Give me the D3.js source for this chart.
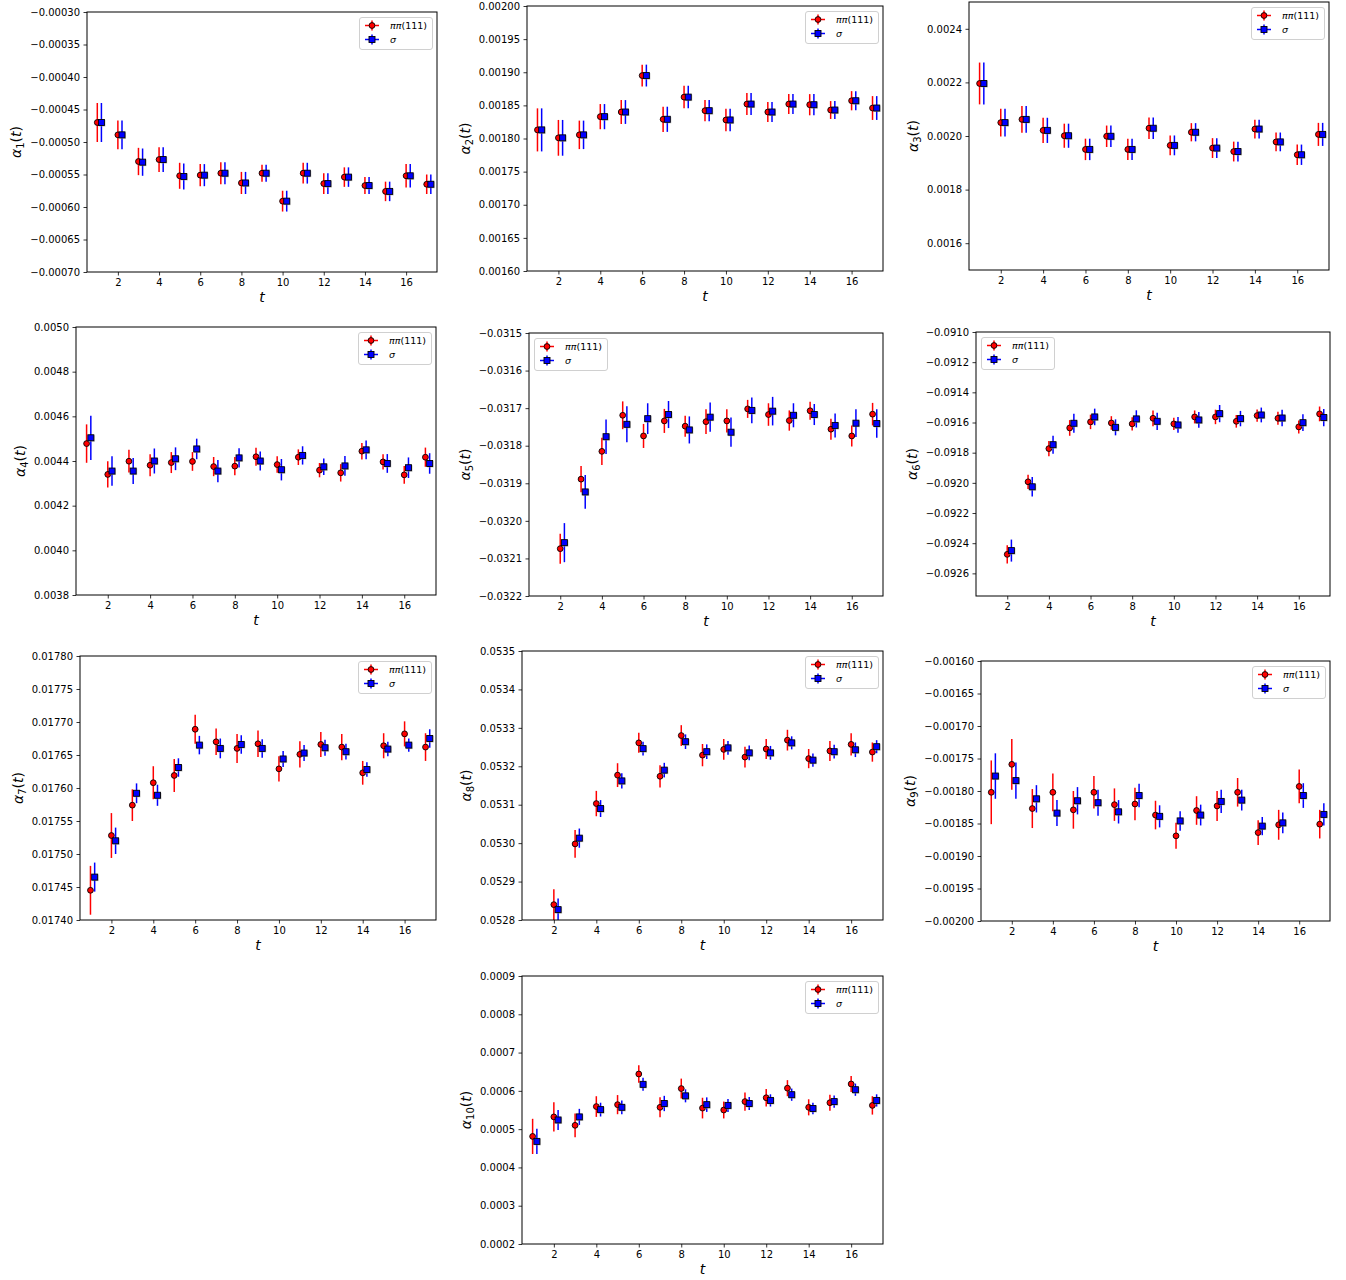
<!DOCTYPE html>
<html>
<head>
<meta charset="utf-8">
<script src="https://cdn.jsdelivr.net/npm/d3@7"></script>
<style>
	body { margin: 0; background: #fff; }
	svg text { font-family: "DejaVu Sans", sans-serif; }
</style>
</head>
<body>
<svg id="figura" width="1346" height="1280"></svg>
<script>
	// Tiempos y ticks del eje x
	var tTodos = [1, 2, 3, 4, 5, 6, 7, 8, 9, 10, 11, 12, 13, 14, 15, 16, 17];
	var tDesde2 = [2, 3, 4, 5, 6, 7, 8, 9, 10, 11, 12, 13, 14, 15, 16, 17];
	var tTicks = [2, 4, 6, 8, 10, 12, 14, 16];

	// alpha_1
	var a1Pi = [-0.000470, -0.000489, -0.000530, -0.000527, -0.000552, -0.000551, -0.000548, -0.000563, -0.000548, -0.000591, -0.000548, -0.000564, -0.000554, -0.000567, -0.000576, -0.000552, -0.000565];
	var a1PiErr = [0.000030, 0.000022, 0.000021, 0.000019, 0.000020, 0.000017, 0.000017, 0.000017, 0.000013, 0.000016, 0.000016, 0.000016, 0.000015, 0.000013, 0.000015, 0.000018, 0.000015];
	var a1Sig = [-0.000470, -0.000489, -0.000531, -0.000527, -0.000553, -0.000551, -0.000548, -0.000563, -0.000548, -0.000591, -0.000548, -0.000564, -0.000554, -0.000567, -0.000576, -0.000552, -0.000565];
	var a1SigErr = [0.000030, 0.000022, 0.000021, 0.000019, 0.000020, 0.000017, 0.000017, 0.000017, 0.000013, 0.000016, 0.000016, 0.000016, 0.000015, 0.000013, 0.000015, 0.000018, 0.000015];
	var a1Ticks = [-0.0007, -0.00065, -0.0006, -0.00055, -0.0005, -0.00045, -0.0004, -0.00035, -0.0003];

	// alpha_2
	var a2Pi = [0.001813, 0.001801, 0.0018055, 0.001833, 0.001840, 0.001895, 0.001829, 0.0018625, 0.001842, 0.001828, 0.001852, 0.001840, 0.001852, 0.001851, 0.001843, 0.001857, 0.001846];
	var a2PiErr = [0.0000325, 0.000027, 0.0000215, 0.000019, 0.000018, 0.0000165, 0.000019, 0.000017, 0.000016, 0.000017, 0.0000165, 0.000015, 0.000015, 0.000016, 0.0000135, 0.0000145, 0.000018];
	var a2Sig = [0.001813, 0.001801, 0.0018055, 0.001833, 0.001840, 0.001895, 0.001829, 0.0018625, 0.001842, 0.001828, 0.001852, 0.001840, 0.001852, 0.001851, 0.001843, 0.001857, 0.001846];
	var a2SigErr = [0.0000325, 0.000027, 0.0000215, 0.000019, 0.000018, 0.0000165, 0.000019, 0.000017, 0.000016, 0.000017, 0.0000165, 0.000015, 0.000015, 0.000016, 0.0000135, 0.0000145, 0.000018];
	var a2Ticks = [0.0016, 0.00165, 0.0017, 0.00175, 0.0018, 0.00185, 0.0019, 0.00195, 0.002];

	// alpha_3
	var a3Pi = [0.002196, 0.002050, 0.002062, 0.002021, 0.002001, 0.001950, 0.001999, 0.001950, 0.002029, 0.001965, 0.002014, 0.001955, 0.001942, 0.002026, 0.001978, 0.001930, 0.002006];
	var a3PiErr = [0.000078, 0.000052, 0.000050, 0.000047, 0.000045, 0.000040, 0.000040, 0.000040, 0.000040, 0.000037, 0.000034, 0.000037, 0.000037, 0.000035, 0.000035, 0.000038, 0.000043];
	var a3Sig = [0.002196, 0.002050, 0.002062, 0.002021, 0.002001, 0.001950, 0.001999, 0.001950, 0.002029, 0.001965, 0.002014, 0.001955, 0.001942, 0.002026, 0.001978, 0.001930, 0.002006];
	var a3SigErr = [0.000078, 0.000052, 0.000050, 0.000047, 0.000045, 0.000040, 0.000040, 0.000040, 0.000040, 0.000037, 0.000034, 0.000037, 0.000037, 0.000035, 0.000035, 0.000038, 0.000043];
	var a3Ticks = [0.0016, 0.0018, 0.002, 0.0022, 0.0024];

	// alpha_4
	var a4Pi = [0.004478, 0.004340, 0.004399, 0.004381, 0.004393, 0.004398, 0.004375, 0.004377, 0.004419, 0.004384, 0.004417, 0.004359, 0.004347, 0.004444, 0.004396, 0.004338, 0.004417];
	var a4PiErr = [0.000086, 0.000059, 0.000051, 0.000049, 0.000047, 0.000042, 0.000043, 0.000041, 0.000040, 0.000037, 0.000035, 0.000032, 0.000039, 0.000037, 0.000034, 0.000040, 0.000043];
	var a4Sig = [0.004504, 0.004355, 0.004355, 0.004400, 0.004410, 0.004454, 0.004355, 0.004414, 0.004400, 0.004361, 0.004425, 0.004374, 0.004378, 0.004450, 0.004389, 0.004370, 0.004389];
	var a4SigErr = [0.000099, 0.000066, 0.000058, 0.000056, 0.000051, 0.000046, 0.000050, 0.000043, 0.000043, 0.000048, 0.000041, 0.000037, 0.000044, 0.000042, 0.000042, 0.000046, 0.000046];
	var a4Ticks = [0.0038, 0.004, 0.0042, 0.0044, 0.0046, 0.0048, 0.005];

	// alpha_5 (desde t = 2)
	var a5Pi = [-0.032074, -0.031889, -0.031815, -0.031719, -0.031774, -0.031734, -0.031748, -0.031736, -0.031734, -0.031702, -0.031717, -0.031733, -0.031707, -0.031756, -0.031774, -0.031716];
	var a5PiErr = [0.000040, 0.000035, 0.000036, 0.000037, 0.000032, 0.000032, 0.000028, 0.000033, 0.000031, 0.000024, 0.000030, 0.000027, 0.000024, 0.000028, 0.000028, 0.000030];
	var a5Sig = [-0.032058, -0.031923, -0.031776, -0.031743, -0.031728, -0.031717, -0.031758, -0.031724, -0.031764, -0.031706, -0.031708, -0.031719, -0.031717, -0.031746, -0.031740, -0.031741];
	var a5SigErr = [0.000052, 0.000045, 0.000046, 0.000048, 0.000041, 0.000036, 0.000036, 0.000039, 0.000039, 0.000034, 0.000038, 0.000032, 0.000028, 0.000032, 0.000037, 0.000038];
	var a5Ticks = [-0.0322, -0.0321, -0.032, -0.0319, -0.0318, -0.0317, -0.0316, -0.0315];

	// alpha_6 (desde t = 2)
	var a6Pi = [-0.092474, -0.091993, -0.091773, -0.091636, -0.091596, -0.091603, -0.091609, -0.091572, -0.091609, -0.091563, -0.091563, -0.091592, -0.091554, -0.091572, -0.091629, -0.091543];
	var a6PiErr = [0.000061, 0.000047, 0.000050, 0.000052, 0.000048, 0.000045, 0.000044, 0.000052, 0.000041, 0.000043, 0.000048, 0.000042, 0.000041, 0.000043, 0.000043, 0.000049];
	var a6Sig = [-0.092449, -0.092026, -0.091747, -0.091605, -0.091563, -0.091632, -0.091576, -0.091592, -0.091616, -0.091583, -0.091541, -0.091574, -0.091550, -0.091570, -0.091601, -0.091567];
	var a6SigErr = [0.000073, 0.000064, 0.000060, 0.000063, 0.000055, 0.000053, 0.000057, 0.000057, 0.000052, 0.000052, 0.000057, 0.000051, 0.000049, 0.000054, 0.000055, 0.000057];
	var a6Ticks = [-0.0926, -0.0924, -0.0922, -0.092, -0.0918, -0.0916, -0.0914, -0.0912, -0.091];

	// alpha_7
	var a7Pi = [0.017445, 0.017528, 0.017574, 0.017608, 0.017619, 0.017689, 0.017670, 0.017660, 0.017667, 0.017629, 0.017651, 0.017666, 0.017662, 0.017623, 0.017664, 0.017682, 0.017662];
	var a7PiErr = [0.000037, 0.000034, 0.000024, 0.000025, 0.000025, 0.000022, 0.000020, 0.000022, 0.000020, 0.000019, 0.000020, 0.000019, 0.000020, 0.000018, 0.000019, 0.000019, 0.000021];
	var a7Sig = [0.017465, 0.017520, 0.017592, 0.017589, 0.017631, 0.017665, 0.017660, 0.017666, 0.017660, 0.017644, 0.017653, 0.017661, 0.017655, 0.017628, 0.017659, 0.017665, 0.017675];
	var a7SigErr = [0.000022, 0.000020, 0.000015, 0.000016, 0.000014, 0.000014, 0.000015, 0.000014, 0.000014, 0.000012, 0.000012, 0.000012, 0.000012, 0.000011, 0.000011, 0.000010, 0.000014];
	var a7Ticks = [0.0174, 0.01745, 0.0175, 0.01755, 0.0176, 0.01765, 0.0177, 0.01775, 0.0178];

	// alpha_8 (desde t = 2)
	var a8Pi = [0.052840, 0.052998, 0.053103, 0.053177, 0.053261, 0.053174, 0.053280, 0.053229, 0.053244, 0.053224, 0.053245, 0.053268, 0.053220, 0.053240, 0.053257, 0.053237];
	var a8PiErr = [0.000040, 0.000036, 0.000033, 0.000031, 0.000026, 0.000029, 0.000027, 0.000029, 0.000027, 0.000027, 0.000026, 0.000027, 0.000025, 0.000026, 0.000029, 0.000025];
	var a8Sig = [0.052827, 0.053013, 0.053090, 0.053162, 0.053246, 0.053190, 0.053264, 0.053238, 0.053248, 0.053235, 0.053235, 0.053261, 0.053216, 0.053238, 0.053243, 0.053251];
	var a8SigErr = [0.000029, 0.000025, 0.000022, 0.000020, 0.000018, 0.000019, 0.000019, 0.000019, 0.000018, 0.000019, 0.000018, 0.000017, 0.000017, 0.000018, 0.000019, 0.000017];
	var a8Ticks = [0.0528, 0.0529, 0.053, 0.0531, 0.0532, 0.0533, 0.0534, 0.0535];

	// alpha_9
	var a9Pi = [-0.001802, -0.001759, -0.001827, -0.001802, -0.001829, -0.001802, -0.001821, -0.001820, -0.001837, -0.001869, -0.001830, -0.001823, -0.001802, -0.001864, -0.001852, -0.001793, -0.001851];
	var a9PiErr = [0.000049, 0.000039, 0.000030, 0.000029, 0.000029, 0.000025, 0.000025, 0.000025, 0.000022, 0.000020, 0.000022, 0.000023, 0.000022, 0.000019, 0.000023, 0.000026, 0.000022];
	var a9Sig = [-0.001777, -0.001784, -0.001812, -0.001834, -0.001815, -0.001818, -0.001832, -0.001807, -0.001839, -0.001846, -0.001837, -0.001816, -0.001814, -0.001854, -0.001849, -0.001807, -0.001836];
	var a9SigErr = [0.000035, 0.000028, 0.000021, 0.000020, 0.000021, 0.000020, 0.000018, 0.000018, 0.000017, 0.000015, 0.000016, 0.000018, 0.000016, 0.000014, 0.000016, 0.000019, 0.000017];
	var a9Ticks = [-0.002, -0.00195, -0.0019, -0.00185, -0.0018, -0.00175, -0.0017, -0.00165, -0.0016];

	// alpha_10
	var a10Pi = [0.000481, 0.000532, 0.000510, 0.000559, 0.000564, 0.000644, 0.000557, 0.000606, 0.000555, 0.000550, 0.000572, 0.000582, 0.000607, 0.000557, 0.000569, 0.000618, 0.000562];
	var a10PiErr = [0.000046, 0.000038, 0.000031, 0.000027, 0.000025, 0.000023, 0.000026, 0.000026, 0.000027, 0.000022, 0.000024, 0.000023, 0.000021, 0.000021, 0.000021, 0.000021, 0.000024];
	var a10Sig = [0.000468, 0.000524, 0.000532, 0.000551, 0.000557, 0.000617, 0.000567, 0.000587, 0.000564, 0.000562, 0.000567, 0.000575, 0.000590, 0.000554, 0.000572, 0.000603, 0.000575];
	var a10SigErr = [0.000033, 0.000026, 0.000021, 0.000018, 0.000018, 0.000017, 0.000020, 0.000017, 0.000019, 0.000017, 0.000017, 0.000016, 0.000016, 0.000015, 0.000016, 0.000016, 0.000016];
	var a10Ticks = [0.0002, 0.0003, 0.0004, 0.0005, 0.0006, 0.0007, 0.0008, 0.0009];

	// Caja de cada panel: [izquierda, arriba, derecha, abajo] en pixeles
	var paneles = [
		{n: "1", t: tTodos, pi: a1Pi, piErr: a1PiErr, sig: a1Sig, sigErr: a1SigErr, yDom: [-0.0007, -0.0003], ticks: a1Ticks, fmt: ".5f", caja: [87, 12, 437, 272], ley: "der"},
		{n: "2", t: tTodos, pi: a2Pi, piErr: a2PiErr, sig: a2Sig, sigErr: a2SigErr, yDom: [0.0016, 0.002], ticks: a2Ticks, fmt: ".5f", caja: [527, 6, 883, 271], ley: "der"},
		{n: "3", t: tTodos, pi: a3Pi, piErr: a3PiErr, sig: a3Sig, sigErr: a3SigErr, yDom: [0.0015, 0.0025], ticks: a3Ticks, fmt: ".4f", caja: [969, 2, 1329, 270], ley: "der"},
		{n: "4", t: tTodos, pi: a4Pi, piErr: a4PiErr, sig: a4Sig, sigErr: a4SigErr, yDom: [0.0038, 0.005], ticks: a4Ticks, fmt: ".4f", caja: [76, 327, 436, 595], ley: "der"},
		{n: "5", t: tDesde2, pi: a5Pi, piErr: a5PiErr, sig: a5Sig, sigErr: a5SigErr, yDom: [-0.0322, -0.0315], ticks: a5Ticks, fmt: ".4f", caja: [529, 333, 883, 596], ley: "izq"},
		{n: "6", t: tDesde2, pi: a6Pi, piErr: a6PiErr, sig: a6Sig, sigErr: a6SigErr, yDom: [-0.09275, -0.091], ticks: a6Ticks, fmt: ".4f", caja: [976, 332, 1330, 596], ley: "izq"},
		{n: "7", t: tTodos, pi: a7Pi, piErr: a7PiErr, sig: a7Sig, sigErr: a7SigErr, yDom: [0.0174, 0.0178], ticks: a7Ticks, fmt: ".5f", caja: [80, 656, 436, 920], ley: "der"},
		{n: "8", t: tDesde2, pi: a8Pi, piErr: a8PiErr, sig: a8Sig, sigErr: a8SigErr, yDom: [0.0528, 0.0535], ticks: a8Ticks, fmt: ".4f", caja: [522, 651, 883, 920], ley: "der"},
		{n: "9", t: tTodos, pi: a9Pi, piErr: a9PiErr, sig: a9Sig, sigErr: a9SigErr, yDom: [-0.002, -0.0016], ticks: a9Ticks, fmt: ".5f", caja: [981, 661, 1330, 921], ley: "der"},
		{n: "10", t: tTodos, pi: a10Pi, piErr: a10PiErr, sig: a10Sig, sigErr: a10SigErr, yDom: [0.0002, 0.0009], ticks: a10Ticks, fmt: ".4f", caja: [522, 976, 883, 1244], ley: "der"}
	];

	var svg = d3.select("#figura");
	var desplaz = 0.2; // desplazamiento en t de la serie sigma

	paneles.forEach(function(p, k) { dibujarPanel(p, k); });

	function dibujarPanel(p, k) {
		var izq = p.caja[0], arr = p.caja[1], der = p.caja[2], aba = p.caja[3];
		var g = svg.append("g");

		var x = d3.scaleLinear().domain([0.5, 17.5]).range([izq, der]);
		var y = d3.scaleLinear().domain(p.yDom).range([aba, arr]);

		// recorte al area de los ejes
		var idClip = "clip" + k;
		g.append("clipPath").attr("id", idClip)
		 .append("rect").attr("x", izq).attr("y", arr)
		 .attr("width", der - izq).attr("height", aba - arr);

		var zona = g.append("g").attr("clip-path", "url(#" + idClip + ")");

		// serie pi pi (111): circulos rojos
		var datosPi = p.t.map(function(t, i) { return {t: t, v: p.pi[i], e: p.piErr[i]}; });
		var datosSig = p.t.map(function(t, i) { return {t: t + desplaz, v: p.sig[i], e: p.sigErr[i]}; });

		zona.append("g").selectAll("line").data(datosPi).enter().append("line")
			.attr("x1", function(d) { return x(d.t); })
			.attr("x2", function(d) { return x(d.t); })
			.attr("y1", function(d) { return y(d.v - d.e); })
			.attr("y2", function(d) { return y(d.v + d.e); })
			.attr("stroke", "#ff0000").attr("stroke-width", 1.5);
		zona.append("g").selectAll("circle").data(datosPi).enter().append("circle")
			.attr("cx", function(d) { return x(d.t); })
			.attr("cy", function(d) { return y(d.v); })
			.attr("r", 2.9)
			.attr("fill", "#ff0000").attr("stroke", "#000").attr("stroke-width", 0.9);

		// serie sigma: cuadrados azules
		zona.append("g").selectAll("line").data(datosSig).enter().append("line")
			.attr("x1", function(d) { return x(d.t); })
			.attr("x2", function(d) { return x(d.t); })
			.attr("y1", function(d) { return y(d.v - d.e); })
			.attr("y2", function(d) { return y(d.v + d.e); })
			.attr("stroke", "#0000ff").attr("stroke-width", 1.5);
		zona.append("g").selectAll("rect").data(datosSig).enter().append("rect")
			.attr("x", function(d) { return x(d.t) - 2.5; })
			.attr("y", function(d) { return y(d.v) - 2.5; })
			.attr("width", 6.5).attr("height", 6.5)
			.attr("fill", "#999").attr("opacity", 0.6);
		zona.append("g").selectAll("rect").data(datosSig).enter().append("rect")
			.attr("x", function(d) { return x(d.t) - 3; })
			.attr("y", function(d) { return y(d.v) - 3; })
			.attr("width", 6).attr("height", 6)
			.attr("fill", "#0000ff").attr("stroke", "#000").attr("stroke-width", 0.9);

		// ejes
		var ejeX = g.append("g")
			.attr("transform", "translate(0," + aba + ")")
			.call(d3.axisBottom(x).tickValues(tTicks).tickSize(3.5).tickPadding(3.5).tickFormat(d3.format("d")));
		var ejeY = g.append("g")
			.attr("transform", "translate(" + izq + ",0)")
			.call(d3.axisLeft(y).tickValues(p.ticks).tickSize(3.5).tickPadding(3.5).tickFormat(d3.format(p.fmt)));
		[ejeX, ejeY].forEach(function(e) {
			e.select(".domain").remove();
			e.selectAll("text").attr("font-size", 10).attr("fill", "#000").attr("font-family", "DejaVu Sans");
			e.selectAll("line").attr("stroke", "#000").attr("stroke-width", 0.8);
		});

		g.append("rect")
			.attr("x", izq).attr("y", arr)
			.attr("width", der - izq).attr("height", aba - arr)
			.attr("fill", "none").attr("stroke", "#000").attr("stroke-width", 1);

		// etiqueta x
		g.append("text")
			.attr("x", (izq + der) / 2).attr("y", aba + 30)
			.attr("text-anchor", "middle").attr("font-size", 14).attr("font-style", "italic")
			.text("t");

		// etiqueta y: alpha_n(t); el bbox del eje esta en coordenadas locales
		var caja = ejeY.node().getBBox();
		var yl = g.append("text")
			.attr("transform", "translate(" + (izq + caja.x - 9) + "," + ((arr + aba) / 2) + ") rotate(-90)")
			.attr("text-anchor", "middle").attr("font-size", 14);
		yl.append("tspan").attr("font-style", "italic").text("α");
		yl.append("tspan").attr("font-size", 10).attr("dy", 3).text(p.n);
		yl.append("tspan").attr("dy", -3).text("(");
		yl.append("tspan").attr("font-style", "italic").text("t");
		yl.append("tspan").text(")");

		// leyenda
		var anchoL = 73, altoL = 32;
		var lx = p.ley === "der" ? der - 5 - anchoL : izq + 5;
		var ly = arr + 5;
		var ley = g.append("g").attr("transform", "translate(" + lx + "," + ly + ")");
		ley.append("rect")
			.attr("x", 0.5).attr("y", 0.5).attr("width", anchoL).attr("height", altoL)
			.attr("rx", 2.5).attr("fill", "#fff").attr("fill-opacity", 0.8)
			.attr("stroke", "#d0d0d0").attr("stroke-width", 1);

		var entradas = [{c: "#ff0000", forma: "circ", y: 8.5}, {c: "#0000ff", forma: "cuad", y: 22.5}];
		entradas.forEach(function(en) {
			var h = ley.append("g").attr("transform", "translate(13," + en.y + ")");
			h.append("line").attr("x1", -7).attr("x2", 7).attr("y1", 0).attr("y2", 0)
				.attr("stroke", en.c).attr("stroke-width", 1.5);
			h.append("line").attr("x1", 0).attr("x2", 0).attr("y1", -5).attr("y2", 5)
				.attr("stroke", en.c).attr("stroke-width", 1.5);
			if (en.forma === "circ") {
				h.append("circle").attr("r", 2.9).attr("fill", en.c).attr("stroke", "#000").attr("stroke-width", 0.9);
			} else {
				h.append("rect").attr("x", -3).attr("y", -3).attr("width", 6).attr("height", 6)
					.attr("fill", en.c).attr("stroke", "#000").attr("stroke-width", 0.9);
			}
		});

		var t1 = ley.append("text").attr("x", 31).attr("y", 8.5).attr("dy", "0.35em").attr("font-size", 9.5);
		t1.append("tspan").attr("font-style", "italic").text("ππ");
		t1.append("tspan").text("(111)");
		ley.append("text").attr("x", 31).attr("y", 22.5).attr("dy", "0.35em").attr("font-size", 9.5)
			.attr("font-style", "italic").text("σ");
	}
</script>
</body>
</html>
